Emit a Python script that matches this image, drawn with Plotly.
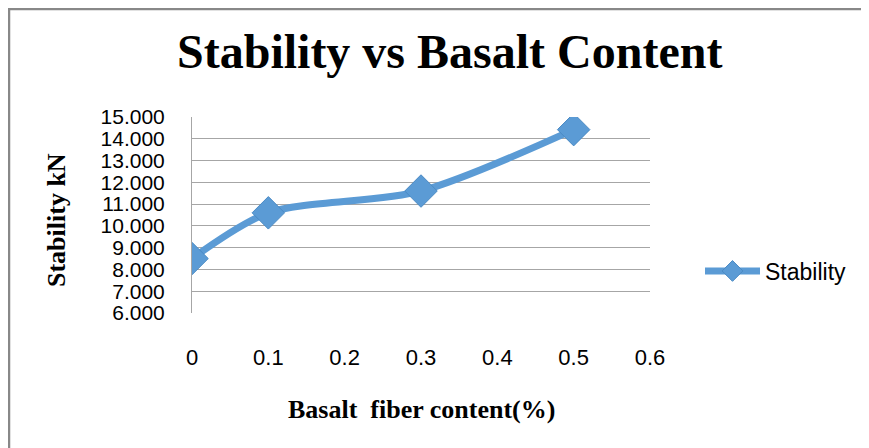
import plotly.graph_objects as go

fiber_content = [0, 0.1, 0.3, 0.5]
stability = [8.5, 10.6, 11.6, 14.42]
y_ticks = [6, 7, 8, 9, 10, 11, 12, 13, 14, 15]
x_ticks = [0, 0.1, 0.2, 0.3, 0.4, 0.5, 0.6]

# page body has an 8px margin; figure origin sits at (8, 8) on screen
OFF = 8
W, H = 869 - OFF, 448 - OFF
L, R, T, B = 192 - OFF, 650 - OFF, 117 - OFF, 313 - OFF
pw, ph = R - L, B - T

def px(x):  # screen x -> paper
    return (x - OFF - L) / pw

def py(y):  # screen y -> paper
    return (B - (y - OFF)) / ph

fig = go.Figure()
fig.add_trace(go.Scatter(
    x=fiber_content, y=stability, name="Stability",
    mode="lines+markers",
    line=dict(color="#5B9BD5", width=7, shape="spline", smoothing=0.8),
    marker=dict(symbol="diamond", size=25, color="#5B9BD5",
                line=dict(color="#4A8AC4", width=1)),
))

border = dict(color="#888888", width=2.5)

fig.update_layout(
    width=W, height=H,
    margin=dict(l=L, r=W - R, t=T, b=H - B),
    paper_bgcolor="white", plot_bgcolor="white",
    showlegend=True,
    legend=dict(x=px(700), y=py(271), xanchor="left", yanchor="middle",
                itemwidth=55,
                font=dict(family="Liberation Sans, Arial", size=23, color="black"),
                bgcolor="rgba(0,0,0,0)"),
    xaxis=dict(range=[0, 0.6], tickvals=x_ticks,
               ticktext=[f"{v:g}" for v in x_ticks],
               showgrid=False, zeroline=False, showline=False,
               ticks="", ticklabelstandoff=29,
               tickfont=dict(family="Liberation Sans, Arial", size=22, color="black")),
    yaxis=dict(range=[6, 15], tickvals=y_ticks,
               ticktext=[f"{v:.3f}" for v in y_ticks],
               showgrid=True, gridcolor="#A6A6A6", gridwidth=1,
               zeroline=False, showline=True, linecolor="#A6A6A6", linewidth=1,
               ticks="", ticklabelstandoff=22,
               tickfont=dict(family="Liberation Sans, Arial", size=21, color="black")),
    annotations=[
        dict(text="<b>Stability vs Basalt Content</b>", x=px(449), y=py(52),
             xref="paper", yref="paper", showarrow=False, xanchor="center", yanchor="middle",
             font=dict(family="Liberation Serif, Times New Roman", size=48, color="black")),
        dict(text="<b>Stability kN</b>", x=px(56), y=py(220), textangle=-90,
             xref="paper", yref="paper", showarrow=False, xanchor="center", yanchor="middle",
             font=dict(family="Liberation Serif, Times New Roman", size=26, color="black")),
        dict(text="<b>Basalt\u00a0 fiber content(%)</b>", x=px(421), y=py(409),
             xref="paper", yref="paper", showarrow=False, xanchor="center", yanchor="middle",
             font=dict(family="Liberation Serif, Times New Roman", size=26, color="black")),
    ],
    shapes=[
        dict(type="line", xref="paper", yref="paper",
             x0=px(8), x1=px(869), y0=py(9), y1=py(9), line=border, layer="below"),
        dict(type="line", xref="paper", yref="paper",
             x0=px(9), x1=px(9), y0=py(8), y1=py(448), line=border, layer="below"),
    ],
)

fig.write_html("out.html")
